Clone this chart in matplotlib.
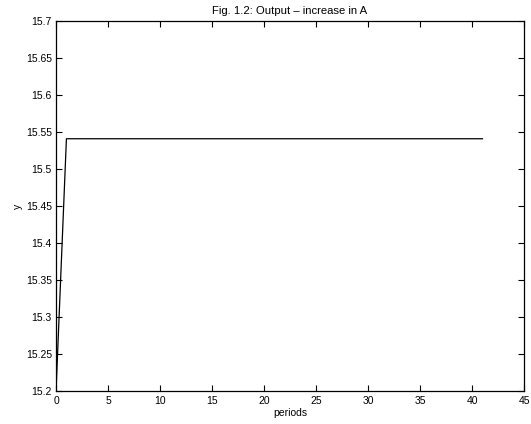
import numpy as np
import matplotlib
matplotlib.use('Agg')
import matplotlib.pyplot as plt

# output path after the increase in A
periods = np.arange(0, 42)
y_start = 15.2
y_new = 15.541
output = [y_start] + [y_new] * (len(periods) - 1)

x_ticks = [0, 5, 10, 15, 20, 25, 30, 35, 40, 45]
y_ticks = [15.2, 15.25, 15.3, 15.35, 15.4, 15.45, 15.5, 15.55, 15.6, 15.65, 15.7]

plt.rcParams['font.family'] = ['Liberation Sans', 'DejaVu Sans']
plt.rcParams['font.size'] = 7.5

fig = plt.figure(figsize=(5.31, 4.24), dpi=100)
ax = fig.add_axes([0.1055, 0.0767, 0.8814, 0.874])
ax.plot(periods, output, color='black', linewidth=0.9)

ax.set_xlim(0, 45)
ax.set_ylim(15.2, 15.7)
ax.set_xticks(x_ticks)
ax.set_yticks(y_ticks)
ax.set_yticklabels([('%g' % v) for v in y_ticks])
ax.tick_params(direction='in', top=True, right=True, length=4, width=0.8, pad=3)
for s in ax.spines.values():
    s.set_linewidth(0.9)

ax.set_xlabel('periods', labelpad=2)
ax.set_ylabel('y', labelpad=2)
ax.set_title('Fig. 1.2: Output \u2013 increase in A', fontsize=8.1, pad=5)

fig.savefig('out.png', dpi=100)
